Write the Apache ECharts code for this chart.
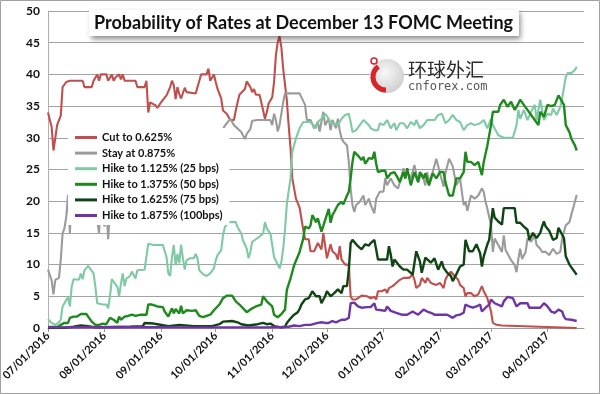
<!DOCTYPE html>
<html><head><meta charset="utf-8">
<script src="https://cdn.jsdelivr.net/npm/echarts@6/dist/echarts.min.js"></script>
<style>html,body{margin:0;padding:0;background:#fff}#c{width:600px;height:394px}</style>
</head><body><div id="c"></div>
<script>
// ---- data ----
const titleText = 'Probability of Rates at December 13 FOMC Meeting';
const seriesNames = ['Cut to 0.625%', 'Stay at 0.875%', 'Hike to 1.125% (25 bps)', 'Hike to 1.375% (50 bps)', 'Hike to 1.625% (75 bps)', 'Hike to 1.875% (100bps)'];
const tickDates = ['2016-07-01','2016-08-01','2016-09-01','2016-10-01','2016-11-01','2016-12-01','2017-01-01','2017-02-01','2017-03-01','2017-04-01'];
// each point: [days since 07/01/2016, probability %]
const cutData = [[0,34],[2,31.7],[3,28],[5,32],[6,32],[7,33.5],[8,38],[10,38.8],[12,39],[19,39],[20,38],[24,38],[25,39],[27,40],[28,39],[29,40],[32,40],[33,39],[34,39],[35,40],[36,39],[37,39.5],[39,40],[40,39.2],[41,40],[42,39],[48,39],[49,38],[53,38],[54,39],[55,34],[56,35.6],[57,35.9],[59,35.1],[60,34.7],[62,35.6],[63,35.9],[65,36.7],[67,38],[68,39],[69,38.3],[70,36.1],[71,38],[72,36.9],[73,36.2],[75,37.9],[76,37.2],[77,37],[81,37],[82,38],[83,39],[84,40],[87,40],[88,40.9],[89,39],[91,40],[92,38.8],[93,37.7],[95,36.2],[96,34.3],[98,33.8],[100,32.8],[102,32.8],[103,34.3],[104,35.6],[105,36.8],[108,37.7],[109,38.9],[111,38],[112,37.2],[113,37.7],[114,36.8],[116,36.8],[117,35.6],[119,33],[120,34],[121,35.4],[123,36.4],[124,38.8],[125,43],[126,45.1],[127,46],[128,44.3],[129,40.9],[131,35.9],[132,32],[133,28.5],[134,23.6],[136,20.4],[138,19],[140,15.5],[141,14],[143,14],[144,12.1],[146,12.1],[148,13.4],[150,12.4],[151,15],[153,11],[155,13.2],[156,12.1],[158,11.6],[159,10.8],[160,12.9],[161,10.8],[163,10],[165,10],[166,5],[167,4.5],[169,4.5],[172,5.1],[175,5],[177,4.7],[179,4.9],[180,4.5],[181,5.8],[183,5.8],[185,6.1],[186,5.5],[187,6.3],[189,6.6],[191,7.1],[193,7.6],[195,7.9],[198,7.9],[200,8.4],[201,7.6],[202,6.3],[204,6.8],[205,7.9],[207,7.1],[208,7.9],[210,7.1],[213,6.8],[215,7.1],[217,6.3],[218,7.6],[219,8.2],[221,8.9],[223,8.2],[225,7.6],[226,6.8],[228,6.3],[229,5],[230,5.5],[232,5.5],[234,5],[236,5.3],[238,6.6],[239,5.8],[241,4.7],[243,2.6],[244,0.8],[246,0.5],[249,0.4],[250,0.1],[290,0]];
const stayData = [[0,9.2],[1,8.9],[2,7.5],[3,5.3],[4,7.6],[5,7.3],[6,7.9],[7,10.7],[8,14.9],[9,15.7],[10,17.5],[11,21],[12,15],[13,21],[15,22],[18,20],[22,21],[26,19],[28,15],[29,20],[31,16],[32,20],[33,14],[34,19],[36,20],[40,22],[45,21],[50,24],[55,23],[60,25],[65,24],[70,26],[75,25],[80,27],[85,26],[90,28],[94,29.5],[96,31.4],[97,31.9],[100,33],[102,32],[103,31.8],[106,30.9],[108,29.8],[109,30.6],[111,31.4],[112,32.7],[115,32.8],[122,32.8],[123,32],[124,33.8],[125,32.8],[126,31],[127,32],[128,33.8],[129,35.6],[130,37],[138,37],[141,35.2],[142,32.8],[144,32.8],[146,31.5],[148,32.5],[149,31],[151,34.1],[152,32],[154,33],[155,31.2],[156,32.8],[158,31.5],[159,33],[160,31.2],[161,29.9],[162,29.4],[164,28.8],[165,26.2],[166,22],[167,19.4],[168,18.3],[169,19.4],[171,19.9],[173,20.9],[174,19.4],[176,20.4],[177,19.4],[179,18.1],[180,20.4],[182,21.5],[184,21.5],[185,23.6],[186,22.5],[188,23.6],[190,22.5],[192,22],[193,23],[195,25.2],[196,23.6],[197,24.6],[199,23.6],[201,25.7],[203,23],[205,24.4],[207,22.5],[208,24.6],[209,23],[211,24.6],[213,26.7],[215,24.4],[217,22.3],[218,24.4],[220,26.7],[222,25.5],[224,22.5],[226,23.6],[227,21.5],[228,19.4],[229,19.9],[230,18.5],[232,20.9],[234,20.4],[236,20.9],[238,22],[239,21.5],[240,19.9],[241,18.8],[243,16.2],[244,12],[245,14.1],[247,13.1],[249,12],[250,14.6],[251,12.3],[252,12],[254,10.7],[256,9.9],[257,8.8],[258,10.9],[259,12.5],[260,10.9],[262,12],[263,14.1],[265,13.6],[267,14.6],[268,13.1],[270,12.5],[271,12],[273,12],[275,11.5],[277,12.5],[279,11.7],[281,12],[282,14.1],[284,16.2],[286,16.7],[287,17.8],[289,19.9],[290,21]];
const hike25Data = [[0,1.4],[2,0.8],[4,0.5],[6,0.9],[7,1.3],[8,3.4],[9,3.9],[10,4.4],[11,4.9],[12,3.4],[13,6.5],[14,7.7],[15,7.5],[17,7.6],[18,8.6],[19,7.7],[20,9.1],[22,9.8],[23,9.4],[25,8.6],[26,6.5],[27,3.9],[28,3.7],[30,3.7],[32,3.7],[33,3.1],[34,5],[35,7.7],[36,7.3],[38,6.5],[39,5],[40,7],[41,8.6],[42,6.6],[43,7.8],[45,8.2],[46,8.9],[47,9.1],[48,7.8],[49,9.1],[50,9.2],[53,9.2],[54,9.4],[55,13.3],[56,13.1],[58,13.1],[60,13.1],[63,13.1],[65,11.2],[66,8.6],[67,8.2],[68,11.2],[69,13.1],[70,9.9],[71,11.7],[72,10.2],[73,13.1],[74,11],[75,9.2],[76,10.7],[78,11],[80,11],[81,11.7],[82,11],[83,9.1],[85,8.5],[87,8.2],[89,8.6],[91,9.4],[92,10.7],[93,11.5],[95,12.3],[96,14.6],[97,15.9],[99,16.7],[101,16.7],[103,16.7],[104,15.9],[106,14.9],[107,13.8],[109,12.5],[110,11],[111,12],[112,13.6],[114,14],[116,14.4],[118,14.9],[119,16.7],[120,15.7],[122,14.9],[123,14.6],[124,11.2],[125,11],[127,9.4],[128,10.4],[129,12.5],[130,15.5],[131,19.5],[133,23.6],[134,27.8],[136,29.9],[138,31.5],[140,32.5],[144,32.5],[145,32.8],[147,31.5],[148,32.5],[150,33],[152,33.8],[154,33],[155,32.3],[157,32.3],[159,32],[161,33],[163,33.6],[165,33.8],[166,32.5],[167,30.9],[169,31.2],[171,32],[173,32.8],[174,33],[176,32],[177,31.5],[179,31.2],[181,31.2],[182,32.3],[184,32],[186,32.8],[188,31.5],[190,32.3],[191,31.2],[193,32.3],[195,32.3],[197,31.5],[199,32.5],[201,32],[202,32.8],[204,31.5],[206,32],[207,32],[208,32.8],[212,32.8],[214,33.6],[216,33.8],[218,32.3],[220,32.8],[222,33.6],[224,32.8],[226,32.5],[228,31.2],[230,32],[232,32.3],[234,32],[237,32.3],[239,32.8],[241,31.5],[243,33],[244,32],[247,30.4],[250,30],[255,30],[257,32],[258,34.4],[259,33],[261,34.4],[263,32.8],[265,34.1],[267,35.2],[268,32.8],[270,36],[272,32.8],[274,33.8],[276,33.6],[277,34.6],[279,33.6],[281,34.9],[282,36.2],[284,39.6],[285,40.2],[287,40.2],[289,40.7],[290,41.2]];
const hike50Data = [[0,0.15],[5,0.15],[7,0.5],[9,0.8],[11,0.8],[12,1.6],[14,1.8],[16,1.8],[17,2.1],[18,2.2],[21,2.2],[22,1.9],[24,1],[26,0.5],[28,0.5],[30,0.7],[32,0.6],[34,1.6],[36,1.3],[38,0.8],[39,1.8],[40,1.3],[42,1.8],[44,1.9],[46,2.1],[48,1.9],[51,2.1],[54,2.1],[55,3.7],[57,3.7],[58,3.4],[60,3.4],[61,3.3],[63,3.3],[64,2.6],[66,1.8],[67,1.9],[68,3.1],[69,2.3],[70,3],[72,2.3],[73,3.5],[74,2.3],[76,2.8],[79,2.7],[81,2.8],[83,1.9],[85,1.7],[89,2.1],[91,2.8],[94,3.7],[96,4.7],[98,5.1],[101,5.1],[103,4.2],[105,3.7],[109,2.5],[112,3.1],[114,3.4],[117,3.7],[118,5],[120,4.2],[121,4],[123,3.4],[124,2.1],[126,1.7],[128,2.2],[130,2.9],[131,6],[133,7.8],[135,9.9],[138,12],[140,14.1],[141,16],[143,15.7],[144,16.2],[145,17.8],[147,16.7],[148,17.3],[150,15.2],[152,17],[154,18.8],[155,16.6],[156,17.8],[157,18.3],[159,19.4],[161,19.9],[162,19.5],[164,20.9],[165,21.5],[166,23.6],[167,26.2],[168,27.8],[169,27.8],[170,27.2],[172,26.5],[173,27],[174,25.9],[176,26.8],[178,26.7],[179,27.8],[180,25.9],[181,24.6],[183,24.8],[185,24.8],[186,23.6],[188,24.4],[190,24.6],[192,23.6],[193,23],[195,24.6],[196,23.6],[197,25.2],[199,22.5],[201,24.6],[203,23],[204,24.6],[206,23.6],[207,24.4],[209,22.5],[211,24.4],[213,23.6],[215,24.6],[217,24.6],[218,23],[220,20.9],[222,20.9],[224,23.6],[226,23.6],[228,24.6],[229,27.8],[230,26.2],[232,26.2],[234,25.7],[236,26.2],[238,24.1],[239,26.2],[241,28.8],[243,32],[244,34.1],[247,34.1],[248,35.2],[250,36],[252,34.9],[254,35.7],[256,34.4],[258,35.4],[259,36],[261,35.2],[263,34.4],[265,33.6],[267,32.8],[269,32],[270,34.1],[272,33.3],[274,35.2],[276,35],[278,35.2],[280,36.7],[281,36.2],[282,36.5],[283,35.2],[284,32],[286,30.9],[287,29.9],[289,28.8],[290,28]];
const hike75Data = [[0,0],[10,0.05],[14,0.2],[18,0.4],[22,0.3],[26,0.1],[45,0.2],[52,0.3],[53,0.8],[58,0.7],[60,0.6],[66,0.3],[72,0.5],[80,0.3],[90,0.3],[94,0.6],[96,1],[101,1.1],[104,0.9],[106,0.6],[110,0.4],[115,0.6],[118,0.8],[120,0.6],[122,0.7],[124,0.3],[128,0.1],[130,0.2],[131,0.8],[133,1.5],[135,2.1],[137,2.5],[138,3],[139,3.7],[141,4.5],[143,4.7],[145,5.8],[147,5],[149,5],[150,3.9],[152,5],[153,5.8],[155,5],[157,5.5],[159,6.1],[161,5.5],[162,6.6],[164,6.6],[165,9.2],[166,13.4],[167,13.9],[168,13.7],[170,12.9],[172,12.4],[174,13.2],[176,13],[177,13.4],[179,13.9],[180,12.4],[181,10.8],[186,10.8],[187,12.9],[188,11.6],[189,9.7],[190,10.8],[191,10.6],[193,9.7],[195,9.2],[197,9.2],[198,9.5],[200,8.4],[202,12.1],[204,10.5],[205,8.7],[207,11.1],[208,10.8],[210,10.3],[212,11],[214,9.2],[216,10.5],[217,9.5],[219,8.7],[221,8.2],[222,7.4],[224,8.5],[226,9.7],[228,10],[229,13.9],[231,12.1],[233,12.1],[235,13.2],[237,11.8],[238,9.7],[239,11.3],[241,13.2],[242,13.9],[244,18.9],[245,17.4],[247,16.8],[249,16.3],[250,18.9],[256,18.9],[257,16.6],[259,16.6],[261,16],[263,15.5],[264,13.9],[266,15],[268,14.2],[270,15],[271,16],[272,16.8],[273,16],[275,15.3],[277,13.9],[279,14.2],[280,15.8],[281,15.8],[283,14.2],[284,11.3],[286,10],[287,9.7],[290,8.4]];
const hike100Data = [[0,0.1],[40,0.15],[80,0.1],[120,0.1],[128,0.15],[132,0.2],[135,0.4],[138,0.3],[141,0.5],[144,0.5],[145,0.8],[148,0.8],[150,0.9],[152,0.8],[154,0.8],[156,1.1],[158,0.9],[159,1.1],[161,1.3],[163,1.3],[165,1.6],[166,3.9],[167,4.2],[168,4],[169,4],[170,3.4],[172,3.2],[175,3.3],[177,3.3],[179,3.9],[180,2.9],[183,2.8],[185,2.7],[186,3.4],[188,2.7],[189,2.9],[191,2.4],[194,2.1],[197,2.1],[198,2.4],[200,2.6],[201,2.9],[203,2.1],[204,1.8],[206,2.9],[208,2.6],[210,2.4],[212,2.1],[213,2.4],[216,2.1],[217,2.2],[219,2.1],[220,1.8],[222,1.6],[224,2],[226,2.1],[228,2.4],[229,3.7],[231,3.4],[233,3.2],[235,3.4],[237,3.7],[238,2.6],[240,3.2],[242,3.7],[243,4.5],[245,3.9],[246,3.7],[249,3.4],[250,4.2],[252,4.9],[255,4.7],[257,3.4],[259,3.9],[263,3.9],[264,3.2],[270,3.2],[272,3.9],[274,3.4],[276,2.6],[278,2.4],[280,2.9],[282,2.6],[283,1.8],[284,1.4],[287,1.3],[290,1.1]];
const seriesColors = ['#C0504D', '#9B9B9B', '#7FCAA5', '#1E8A1E', '#0F4512', '#7035A5'];

// ---- helpers ----
function dayToTime(d) { return new Date(2016, 6, 1 + d).getTime(); }
function parseDate(s) { const p = s.split('-').map(Number); return new Date(p[0], p[1] - 1, p[2]).getTime(); }
function fmt(v) {
  const d = new Date(v);
  return String(d.getMonth() + 1).padStart(2, '0') + '/' + String(d.getDate()).padStart(2, '0') + '/' + d.getFullYear();
}
const tickValues = tickDates.map(parseDate);
const allData = [cutData, stayData, hike25Data, hike50Data, hike75Data, hike100Data];

const chart = echarts.init(document.getElementById('c'), null, { renderer: 'canvas' });
const font = 'Lato';
chart.setOption({
  animation: false,
  backgroundColor: '#ffffff',
  title: {
    text: titleText, left: 89, top: 10,
    padding: [4, 6, 4, 5],
    backgroundColor: '#ffffff',
    shadowBlur: 5, shadowColor: 'rgba(0,0,0,0.45)', shadowOffsetX: 2, shadowOffsetY: 3,
    textStyle: { fontFamily: font, fontWeight: 'bold', fontSize: 18, color: '#111111' }
  },
  legend: {
    orient: 'vertical', left: 68, top: 128,
    padding: [2, 7, 2, 7],
    backgroundColor: '#ffffff',
    icon: 'rect', itemWidth: 22, itemHeight: 3, itemGap: 0.6,
    data: seriesNames,
    textStyle: { fontFamily: font, fontWeight: 'bold', fontSize: 11, color: '#111111', lineHeight: 15 }
  },
  grid: { left: 48, right: 16, top: 11, bottom: 66, containLabel: false, outerBoundsMode: 'none' },
  xAxis: {
    type: 'value', min: dayToTime(0), max: dayToTime(294),
    axisLine: { show: true, lineStyle: { color: '#9a9a9a', width: 1 } },
    axisTick: { show: true, customValues: tickValues, length: 4, lineStyle: { color: '#9a9a9a' } },
    axisLabel: { customValues: tickValues, rotate: 45, formatter: fmt, fontFamily: font, fontWeight: 'bold', fontSize: 11, color: '#111111', margin: 6 },
    splitLine: { show: false }
  },
  yAxis: {
    type: 'value', min: 0, max: 50, interval: 5,
    axisLine: { show: true, lineStyle: { color: '#b0b0b0' } },
    axisTick: { show: false },
    axisLabel: { fontFamily: font, fontWeight: 'bold', fontSize: 12, color: '#111111', margin: 8 },
    splitLine: { show: true, lineStyle: { color: '#a3a3a3', width: 1 } }
  },
  series: allData.map((d, i) => ({
    name: seriesNames[i], type: 'line', showSymbol: false, symbol: 'none',
    data: d.map(p => [dayToTime(p[0]), p[1]]),
    lineStyle: { color: seriesColors[i], width: i >= 3 ? 2.4 : 2.1 },
    itemStyle: { color: seriesColors[i] },
    emphasis: { disabled: true }
  })),
  graphic: [
    { type: 'circle', shape: { cx: 387, cy: 76, r: 17 }, silent: true, z: 1,
      style: { fill: { type: 'radial', x: 0.45, y: 0.4, r: 0.7, colorStops: [{ offset: 0, color: '#f8f8f8' }, { offset: 1, color: '#c9c9c9' }] } } },
    { type: 'arc', shape: { cx: 386, cy: 77, r: 13, startAngle: Math.PI * 0.5, endAngle: Math.PI * 1.3 }, silent: true, z: 1,
      style: { stroke: '#d8232a', lineWidth: 5, fill: 'none' } },
    { type: 'circle', shape: { cx: 374, cy: 61, r: 3 }, silent: true, z: 1,
      style: { fill: '#ffffff', stroke: '#d8232a', lineWidth: 1.5 } },
    { type: 'text', x: 408, y: 70, silent: true, z: 1,
      style: { text: '环球外汇', font: '19px "Noto Sans CJK SC"', fill: '#2a2a2a', textVerticalAlign: 'middle' } },
    { type: 'text', x: 408, y: 87, silent: true, z: 1,
      style: { text: 'cnforex.com', font: '12px "DejaVu Sans Mono"', fill: '#555555', textVerticalAlign: 'middle' } },
    { type: 'rect', shape: { x: 0.5, y: 0.5, width: 599, height: 393 }, silent: true, z: 100,
      style: { fill: 'none', stroke: '#a0a0a0', lineWidth: 1 } }
  ]
});
</script></body></html>
